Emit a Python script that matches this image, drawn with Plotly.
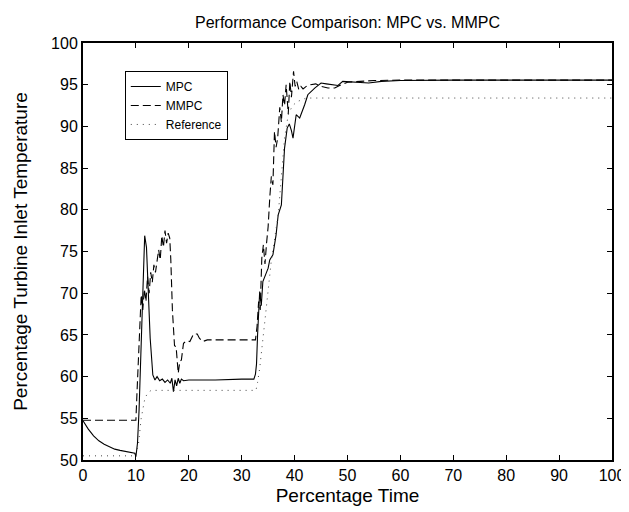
import plotly.graph_objects as go

# MPC response (solid)
mpc_x = [0, 0.5, 1, 2, 3, 4, 5, 6, 7, 8, 9, 9.8, 10.0, 10.3, 10.6, 11.0, 11.3, 11.66, 12.0, 12.4,
         12.7, 13.2, 13.6, 14.0, 14.5, 15, 15.5, 16, 16.5, 16.8, 17.1, 17.4, 17.7, 18.0, 18.3, 18.6,
         19, 20, 25, 30, 32.3, 32.6, 32.8, 33.0, 33.2, 33.4, 33.7, 34.0, 34.5, 35.0, 35.3, 35.9,
         36.5, 36.9, 37.5, 37.8, 38.1, 38.6, 39.0, 39.4, 39.7, 40.3, 40.96, 41.9, 42.5, 43.8, 45.0,
         46.0, 46.9, 48.2, 49.1, 52, 54, 56.4, 60, 70, 80, 90, 100]
mpc_y = [54.7, 54.2, 53.7, 52.9, 52.3, 51.9, 51.6, 51.3, 51.15, 51.0, 50.9, 50.8, 50.4, 52, 56, 65,
         72, 76.9, 75.5, 70, 64.6, 60.2, 59.6, 60.0, 59.5, 59.7, 59.3, 59.6, 59.2, 59.8, 58.2, 59.6,
         58.9, 59.8, 59.2, 59.7, 59.5, 59.6, 59.6, 59.7, 59.7, 60.3, 61.5, 65, 68.5, 70.2, 68.5,
         71.4, 72.2, 73.0, 74.0, 74.6, 77.0, 79.4, 80.6, 83.4, 87.4, 89.8, 90.3, 89.5, 88.6, 91.4,
         91.0, 92.6, 93.8, 94.6, 95.2, 95.1, 95.0, 94.9, 95.4, 95.3, 95.2, 95.4, 95.5, 95.55,
         95.55, 95.55, 95.55]

# MMPC response (dashed)
mmpc_x = [0, 10.0, 10.2, 10.5, 10.8, 11.0, 11.3, 11.6, 11.9, 12.2, 12.5, 12.8, 13.1, 13.4, 13.7,
          14.0, 14.3, 14.6, 14.9, 15.2, 15.5, 15.8, 16.1, 16.4, 16.6, 16.9, 17.3, 17.6, 17.8,
          18.0, 18.3, 18.6, 19.0, 19.6, 20.2, 20.9, 21.6, 22.0, 22.6, 23.5, 25, 30, 32.6, 32.9,
          33.2, 33.5, 33.8, 34.1, 34.4, 34.7, 35.0, 35.3, 35.6, 35.9, 36.2, 36.5, 36.8, 37.2,
          37.5, 37.8, 38.1, 38.4, 38.8, 39.1, 39.4, 39.8, 40.1, 40.4, 40.8, 41.2, 41.6, 42.2,
          43, 44, 45, 46.3, 47.6, 48.5, 50, 55, 60, 100]
mmpc_y = [54.76, 54.76, 58, 62, 66, 69.8, 68, 70.5, 69, 72, 70, 72.5, 71.3, 73.4, 72.5, 74, 75.2,
          74, 76.9, 75.5, 77.5, 76, 77.2, 76.6, 74, 68, 63.7, 63.6, 61.8, 60.4, 61.8, 62.0, 64.0,
          64.3, 64.2, 65.1, 65.1, 64.6, 64.2, 64.4, 64.4, 64.4, 64.4, 66, 69, 68, 74.2, 75.8,
          73.5, 76, 78, 81.4, 84, 83, 89.4, 87.5, 88.6, 92.3, 90.5, 93.8, 92.5, 95.0, 91.5, 95.4,
          93.5, 96.6, 94.8, 95.4, 94.4, 94.8, 94.5, 94.8, 95.0, 95.1, 94.8, 94.6, 94.6, 94.9,
          95.3, 95.5, 95.55, 95.55]

# Reference trajectory (dotted)
ref_x = [0, 10.0, 10.5, 11.0, 11.7, 12.3, 12.9, 32.7, 33.0, 33.4, 34.3, 35.6, 36.9, 37.5, 38.1,
         38.8, 39.6, 40.6, 42.2, 100]
ref_y = [50.5, 50.5, 52.0, 55.0, 57.4, 58.1, 58.35, 58.35, 59.3, 61.0, 66.2, 73.9, 79.4, 83.8,
         88.6, 91.4, 92.5, 93.0, 93.4, 93.4]

FONT = "Liberation Sans, Arial, Helvetica, sans-serif"

fig = go.Figure()
fig.add_trace(go.Scatter(x=mpc_x, y=mpc_y, mode='lines', name='MPC',
                         line=dict(color='black', width=1.1)))
fig.add_trace(go.Scatter(x=mmpc_x, y=mmpc_y, mode='lines', name='MMPC',
                         line=dict(color='black', width=1.1, dash='8px,4px')))
fig.add_trace(go.Scatter(x=ref_x, y=ref_y, mode='lines', name='Reference',
                         line=dict(color='#444444', width=1, dash='1px,5px')))

axis_style = dict(
    showline=True, linecolor='black', linewidth=2, mirror='ticks',
    ticks='inside', ticklen=5, tickwidth=1, tickcolor='black',
    showgrid=False, zeroline=False, automargin=False,
    tickfont=dict(family=FONT, size=16, color='black'),
)

fig.update_layout(
    width=629, height=512,
    margin=dict(l=75, r=25, t=35, b=60),
    paper_bgcolor='white', plot_bgcolor='white',
    font=dict(family=FONT, color='black'),
    title=dict(text='Performance Comparison: MPC vs. MMPC', x=0.5, xref='paper',
               y=0.972, yanchor='middle', font=dict(size=16)),
    xaxis=dict(range=[0, 100], dtick=10, title=dict(text='Percentage Time', standoff=5,
                                                     font=dict(size=19)), **axis_style),
    yaxis=dict(range=[50, 100], dtick=5,
               title=dict(text='Percentage Turbine Inlet Temperature', standoff=18,
                          font=dict(size=19)), **axis_style),
    legend=dict(x=0.079, y=0.933, xanchor='left', yanchor='top',
                bgcolor='white', bordercolor='black', borderwidth=1,
                font=dict(size=12), tracegroupgap=0),
    showlegend=True,
)

fig.write_html("out.html")
